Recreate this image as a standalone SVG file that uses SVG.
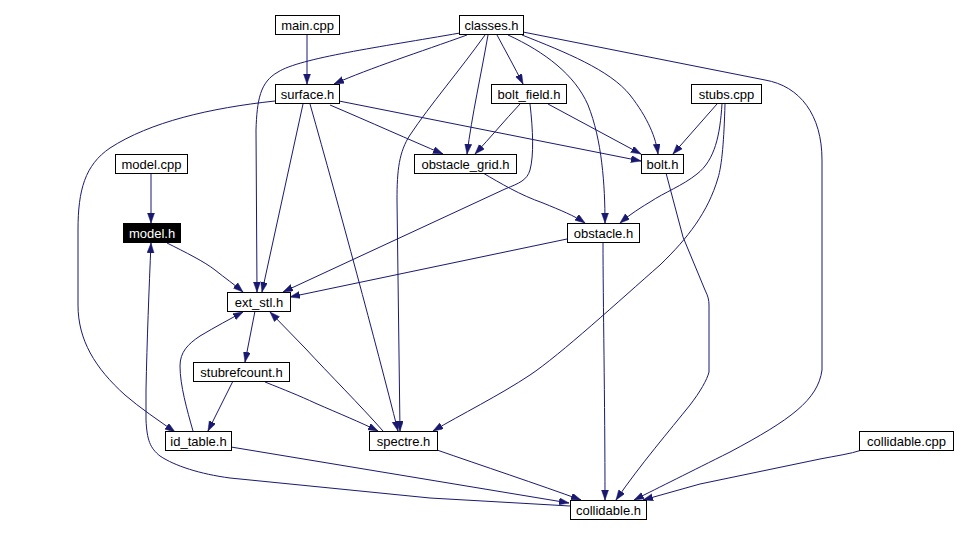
<svg xmlns="http://www.w3.org/2000/svg" width="966" height="534" viewBox="0 0 966 534">
<style>
.n rect{fill:#fff;stroke:#000;stroke-width:1}
.n text{font-family:"Liberation Sans",Arial,sans-serif;font-size:13px;fill:#000;text-anchor:middle}
.hl rect{fill:#000}
.hl text{fill:#fff}
#edges path{fill:none;stroke:#191970;stroke-width:1;marker-end:url(#ah)}
#edges path.na{marker-end:none}
</style>
<defs>
<marker id="ah" markerUnits="userSpaceOnUse" markerWidth="11" markerHeight="8" refX="10" refY="3.5" orient="auto">
<path d="M0,0 L10,3.5 L0,7 z" fill="#191970" stroke="#191970" stroke-width="0.5"/>
</marker>
</defs>
<rect width="966" height="534" fill="#fff"/>
<g id="edges">
<path d="M307,34 L307,84"/>
<path d="M467,35 C420,52 370,68 334,84"/>
<path d="M460,33 C380,47 300,58 278,72 C260,82 257,100 256,130 L257,292"/>
<path d="M485,35 C460,70 430,105 410,135 C399,152 397,170 397,200 L400,431"/>
<path d="M488,35 C481,75 472,115 467,154"/>
<path d="M497,35 C505,50 515,68 523,84"/>
<path d="M508,35 C545,52 575,75 588,105 C602,140 605,185 605,223"/>
<path d="M522,35 C565,52 610,70 630,95 C648,118 656,138 658,154"/>
<path d="M523,32 L765,80 C800,86 822,115 822,160 L822,370 C818,400 790,420 730,452 C690,472 660,487 634,500"/>
<path d="M275,101 C210,108 150,122 110,148 C85,165 78,190 78,230 L78,305 C78,340 95,368 125,395 C140,408 158,420 175,432"/>
<path d="M303,104 L262,292"/>
<path d="M310,104 C340,210 375,340 398,431"/>
<path d="M330,105 C370,122 410,140 443,154"/>
<path d="M339,101 L641,161"/>
<path d="M520,104 C505,120 490,138 475,154"/>
<path d="M548,104 L641,154"/>
<path d="M530,104 C533,130 534,155 530,170 C527,180 520,183 505,189 L283,292"/>
<path d="M717,104 L673,154"/>
<path d="M722,104 C720,135 715,160 697,174 C682,186 665,192 650,202 C635,211 627,217 620,223"/>
<path d="M725,104 C724,140 722,165 718,178 C708,212 688,238 660,265 C620,300 560,355 530,375 C500,395 460,415 433,431"/>
<path d="M151,172 L151,223"/>
<path d="M483,173 C500,183 520,195 543,203 C560,210 575,216 585,223"/>
<path d="M666,173 L683,237 L705,290 C708,296 709,300 709,305 L709,372 C707,380 700,392 690,405 C670,430 640,465 616,500"/>
<path d="M167,243 C185,252 205,262 215,270 C225,278 235,285 243,292"/>
<path d="M567,239 L290,297"/>
<path d="M603,242 C603,300 605,400 605,500"/>
<path d="M255,311 L245,362"/>
<path d="M193,431 C187,410 180,385 180,366 C180,352 188,344 200,336 C215,327 230,319 243,312"/>
<path d="M383,431 C360,405 330,375 305,348 L270,312"/>
<path d="M233,381 L208,431"/>
<path d="M265,382 C285,390 300,396 315,403 C340,414 360,422 378,431"/>
<path d="M231,447 L569,503"/>
<path d="M437,450 C480,465 540,485 581,500"/>
<path d="M862,450 C850,454 835,456 820,459 L700,484 L643,500"/>
<path d="M570,506 L430,498 L230,478 C200,474 175,466 160,456 C150,448 147,440 146,420 L146,390 C147,340 149,290 151,243"/>
</g>
<g id="main_cpp" class="n"><rect x="275.5" y="15.5" width="64" height="19"/><text x="307.5" y="29.5">main.cpp</text></g>
<g id="classes_h" class="n"><rect x="459.5" y="15.5" width="64" height="19"/><text x="491.5" y="29.5">classes.h</text></g>
<g id="surface_h" class="n"><rect x="275.5" y="84.5" width="64" height="19"/><text x="307.5" y="98.5">surface.h</text></g>
<g id="bolt_field_h" class="n"><rect x="491.5" y="84.5" width="75" height="19"/><text x="529" y="98.5">bolt_field.h</text></g>
<g id="stubs_cpp" class="n"><rect x="691.5" y="84.5" width="70" height="19"/><text x="726.5" y="98.5">stubs.cpp</text></g>
<g id="model_cpp" class="n"><rect x="115.5" y="154.5" width="72" height="19"/><text x="151.5" y="168.5">model.cpp</text></g>
<g id="obstacle_grid_h" class="n"><rect x="414.5" y="154.5" width="102" height="19"/><text x="465.5" y="168.5">obstacle_grid.h</text></g>
<g id="bolt_h" class="n"><rect x="641.5" y="154.5" width="42" height="19"/><text x="662.5" y="168.5">bolt.h</text></g>
<g id="model_h" class="n hl"><rect x="123.5" y="223.5" width="57" height="19"/><text x="152" y="237.5">model.h</text></g>
<g id="obstacle_h" class="n"><rect x="567.5" y="223.5" width="72" height="19"/><text x="603.5" y="237.5">obstacle.h</text></g>
<g id="ext_stl_h" class="n"><rect x="227.5" y="292.5" width="63" height="19"/><text x="259" y="306.5">ext_stl.h</text></g>
<g id="stubrefcount_h" class="n"><rect x="193.5" y="362.5" width="96" height="19"/><text x="241.5" y="376.5">stubrefcount.h</text></g>
<g id="id_table_h" class="n"><rect x="165.5" y="431.5" width="66" height="19"/><text x="198.5" y="445.5">id_table.h</text></g>
<g id="spectre_h" class="n"><rect x="369.5" y="431.5" width="68" height="19"/><text x="403.5" y="445.5">spectre.h</text></g>
<g id="collidable_cpp" class="n"><rect x="859.5" y="431.5" width="94" height="19"/><text x="906.5" y="445.5">collidable.cpp</text></g>
<g id="collidable_h" class="n"><rect x="570.5" y="500.5" width="76" height="19"/><text x="608.5" y="514.5">collidable.h</text></g>
</svg>
